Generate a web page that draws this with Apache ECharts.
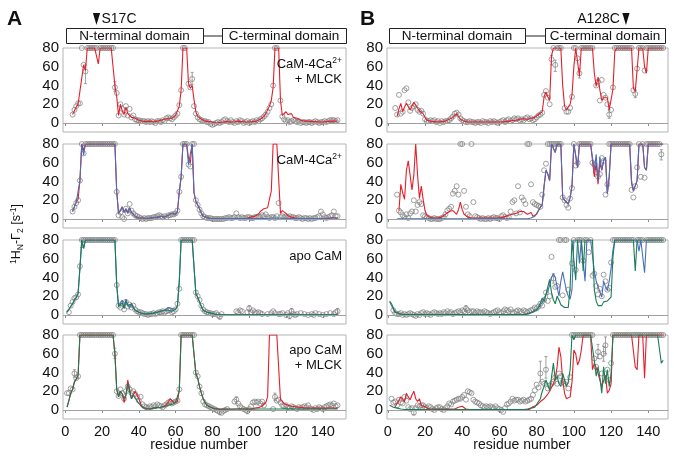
<!DOCTYPE html>
<html><head><meta charset="utf-8">
<script src="https://cdn.jsdelivr.net/npm/echarts@6/dist/echarts.min.js"></script>
<style>html,body{margin:0;padding:0;background:#fff}#c{width:674px;height:456px}</style>
</head><body><div id="c"></div>
<script>
// ---------- axis ticks ----------
const xTicks = [0,20,40,60,80,100,120,140];
const yTicks = [0,20,40,60,80];

// ---------- Panel A (S17C) : values per residue 1..148 ----------
const A1_red = [
 null,null,null,9,13,17,20,22,48,62,
 56,80,80,80,80,80,80,63,80,80,
 80,80,80,80,80,80,40,28,8,20,
 13,9,17,10,12,6,8,5,4,3,
 2,2,1.5,1.5,2,2,1.5,1,1.5,2,
 2,3,3,4,5,5,6,5,6,8,
 10,18,35,80,80,80,42,37,40,25,
 12,7,5,4,3,2,2,1.5,1,1,
 0.5,0,0,0.5,1,1,1.5,1.5,1,1,
 1,1,1.5,2,2,1.5,1.5,1,1,1,
 1,1.5,2,2,3,4,5,7,10,14,
 18,24,38,80,80,80,24,8,6,12,
 9,8,10,6,7,5,4,3,3,2,
 2,2,1.5,1.5,1.5,1.5,1,1,1,1,
 1,1.5,1.5,2,2,2,2,2];
const A1_obs = [
 null,null,null,9,14,18,21,21,80,62,
 55,80,80,80,80,80,80,null,80,80,
 80,80,80,80,80,80,38,32,8,20,
 15,9,18,8,15,6,8,4,3,3,
 2,2,2,1,2,1,2,1,0,2,
 2,1,3,2,5,6,5,4,6,8,
 10,19,35,80,80,null,42,38,47,18,
 10,6,4,3,2,2,1,1,-1,-2,
 -1,0,1,0,1,3,4,2,1,3,
 1,0,2,1,3,2,0,1,2,0,
 1,2,1,3,2,4,5,7,9,12,
 16,20,40,80,80,null,24,7,4,2,
 3,1,2,3,2,1,2,0,1,1,
 0,1,1,0,1,2,1,0,1,1,
 2,1,2,3,3,3,2,3];
const A1_err = [[11,42,62],[69,41,54],[27,34,44]];

const A2_red = [
 null,null,null,8,13,18,21,41,80,73,
 80,80,80,80,80,80,80,80,80,80,
 80,80,80,80,80,80,80,29,6,9,
 13,7,11,6,12,7,5,3,2,1,
 1,1,0.5,0.5,1,1,1,1.5,1.5,2,
 3,3,2,2,3,4,5,6,5,5,
 8,29,45,80,80,80,65,60,80,28,
 19,15,11,6,3,2,1.5,1,0.5,0.5,
 0.5,0.3,0.3,0.3,0.5,0.5,0.5,0.5,0.5,0.5,
 0.5,0.5,0.8,0.8,0.5,0.5,0.5,0.8,1,1.5,
 2,2.5,3,4,5,8,10,11,11,12,
 12.6,30,80,80,80,80,6,9,7,6,
 3.5,3,2,1.5,1,0.8,0.5,0.5,0.5,0.5,
 0.5,0.5,0.5,0.5,0.5,0.5,0.5,0.5,0.5,0.5,
 0.8,0.8,0.8,1,1,1,1,1];
const A2_blue = [
 null,null,null,8,13,18,20,41,80,68,
 80,80,80,80,80,80,80,80,80,80,
 80,80,80,80,80,80,80,29,6,9,
 13,7,11,6,12,7,5,3,2,1,
 1,1,0.5,0.5,1,1,1,1.5,1.5,2,
 3,3,2,2,3,4,5,6,5,5,
 8,29,45,80,80,80,58,59,80,28,
 19,15,11,6,3,2,1.5,1,0.5,0.5,
 0.5,0.3,0.3,0.3,0.5,0.5,0.5,0.5,0.5,0.5,
 0.5,0.5,0.8,0.8,0.5,0.5,0.5,0.5,0.5,0.5,
 0.5,0.5,0.5,0.5,0.5,0.5,0.5,0.5,0.5,0.8,
 0.8,1,1,1,1,1,0.8,0.8,0.8,0.5,
 0.5,0.5,0.5,0.5,0.5,0.5,0.5,0.5,0.5,0.5,
 0.5,0.5,0.5,0.5,0.5,0.5,0.5,0.5,0.5,0.8,
 0.8,0.8,0.8,1,1,1,1,1];
const A2_obs = [
 null,null,null,8,13,17,20,41,80,70,
 80,80,80,80,80,80,80,80,80,80,
 80,80,80,80,80,80,80,29,4,7,
 2,0,11,6,16,9,6,4,3,2,
 1,0,1,0,1,1,1,2,2,3,
 4,3,2,3,2,4,4,5,5,6,
 9,29,45,80,80,80,58,56,80,80,
 20,15,10,6,3,2,1,1,1,0,
 0,0,0,0,0,0,1,1,2,1,
 1,2,6,2,1,2,1,1,2,2,
 1,1,2,2,3,2,4,3,5,2,
 1,2,2,1,3,17,2,3,2,3,
 2,3,2,2,1,1,2,1,0,1,
 1,0,1,0,1,1,2,3,8,5,
 2,1,2,3,4,8,3,3];
const A2_err = [];

const A3_blue = [
 3,5,9,12,16,19,23,50,80,71,
 80,80,80,80,80,80,80,80,80,80,
 80,80,80,80,80,80,80,32,9,8,
 16,7,17,11,8,12,8,5,4,3,
 2,1.5,1,1,1,1.5,2,2,2.5,3,
 3.5,4,4,5,6,8,9,7,5,6,
 10,36,80,80,80,80,80,80,80,80,
 23,19,14,9,5,4,3,2.5,2,1.5,
 1,0.5,0.3,0.3,0.3,0.3,0.3,0.3,0.3,0.3,
 0.3,0.3,0.3,0.3,0.3,0.3,0.3,0.3,0.3,0.3,
 0.3,0.3,0.3,0.3,0.3,0.3,0.3,0.3,0.3,0.3,
 0.3,0.3,0.3,0.3,0.3,0.3,0.3,0.3,0.3,0.3,
 0.3,0.3,0.3,0.3,0.3,0.3,0.3,0.3,0.3,0.3,
 0.3,0.3,0.3,0.3,0.3,0.3,0.3,0.3,0.3,0.3,
 0.3,0.3,0.3,0.3,0.3,0.3,0.3,0.3];
const A3_green = [
 3,5,9,12,16,19,23,50,80,71,
 80,80,80,80,80,80,80,80,80,80,
 80,80,80,80,80,80,80,32,9,7,
 13,7,15,10,8,12,8,5,4,3,
 2,1.5,1,1,1,1.5,2,2,2.5,3,
 3.5,4,4,5,5,5,5,4,5,6,
 10,36,80,80,80,80,80,80,80,80,
 23,19,14,9,5,4,3,2.5,2,1.5,
 1,0.5,0.3,0.3,0.3,0.3,0.3,0.3,0.3,0.3,
 0.3,0.3,0.3,0.3,0.3,0.3,0.3,0.3,0.3,0.3,
 0.3,0.3,0.3,0.3,0.3,0.3,0.3,0.3,0.3,0.3,
 0.3,0.3,0.3,0.3,0.3,0.3,0.3,0.3,0.3,0.3,
 0.3,0.3,0.3,0.3,0.3,0.3,0.3,0.3,0.3,0.3,
 0.3,0.3,0.3,0.3,0.3,0.3,0.3,0.3,0.3,0.3,
 0.3,0.3,0.3,0.3,0.3,0.3,0.3,0.3];
const A3_obs = [
 null,3,10,14,18,19,22,52,80,80,
 80,80,80,80,80,80,80,80,80,80,
 80,80,80,80,80,80,80,32,10,8,
 12,6,14,9,11,8,10,6,4,3,
 3,2,1,1,0,1,1,2,1,2,
 3,3,4,3,4,5,5,3,4,6,
 12,28,80,80,80,80,80,80,80,80,
 24,20,16,10,6,4,3,2,2,1,
 1,2,0,-2,1,null,null,null,null,null,
 null,null,4,3,5,4,null,null,3,7,
 3,5,3,2,3,2,1,null,null,1,
 null,2,4,2,null,1,1,2,null,0,
 2,-1,4,1,0,1,null,2,null,1,
 null,0,null,1,0,2,null,1,null,0,
 null,1,null,2,null,1,3,4];
const A3_err = [[84,-4,1],[100,4,10],[122,-4,2],[123,1,7],[148,0,7],[9,72,80]];

const A4_red = [
 3,10,18,22,30,33,37,80,80,80,
 80,80,80,80,80,80,80,80,80,80,
 80,80,80,80,80,80,60,22,14,20,
 17,8,16,32,22,12,16,20,16,12,
 7,3,2,1.5,1,1,1.5,2,2,2.5,
 3,3,3.5,4,4,8,12,10,8,8,
 9,21,80,80,80,80,80,80,80,80,
 39,34,25,18,12,8,5,4,3,2,
 1.5,1,1,1,1,1,1,1,1,1,
 1,1,1,1,1,1,1,1,1,1,
 1,1.5,2,2,2.5,3,4,5,8,14,
 80,80,80,80,80,80,11,9,7,6,
 5,5,4,4,3.5,3,3,3,2.5,2.5,
 2,2,2,2,2,2,2,2,2,2,
 2,2,2,2,2,2,2,2];
const A4_green = [
 3,10,18,22,30,33,37,80,80,80,
 80,80,80,80,80,80,80,80,80,80,
 80,80,80,80,80,80,60,22,14,20,
 17,12,16,28,20,12,16,14,10,7,
 5,3,2,1.5,1,1,1.5,2,2,2.5,
 3,3,3.5,4,4,5,6,6,7,8,
 9,21,80,80,80,80,80,80,80,80,
 39,34,25,18,12,8,5,4,3,2,
 1.5,1,1,1,0.8,0.8,0.8,0.8,0.8,0.8,
 0.8,0.8,1,1,1,1,1,0.8,0.8,0.8,
 0.8,0.8,0.8,1,1,1,1,1,1,1,
 1,1,1,1,1,1,1,1,1.2,1.2,
 1.2,1.2,1.2,1,1,1,1,1,1,1,
 1,1,1,1,1,1,1,1,1,1,
 1,1,1,1,1,1,1,1];
const A4_obs = [
 18,18,23,22,39,34,36,80,80,80,
 80,80,80,80,80,80,80,80,80,80,
 80,80,80,80,80,80,60,20,15,22,
 18,12,20,25,22,18,20,17,14,10,
 14,6,4,3,2,4,3,5,4,6,
 5,4,3,5,6,8,9,7,8,9,
 10,22,80,80,80,80,80,80,80,80,
 40,36,25,18,9,6,5,4,3,2,
 1,0,-1,-2,-3,-1,0,1,null,null,
 null,9,11,7,4,2,1,0,-1,1,
 4,8,9,8,9,7,9,5,null,null,
 null,null,1,14,10,11,8,5,4,5,
 3,2,4,3,2,1,3,2,3,4,
 3,5,2,1,0,2,1,3,2,1,
 3,4,5,6,5,7,4,5];
const A4_err = [[5,35,43],[27,55,66],[84,-5,0],[99,-4,2],[114,10,18],[93,7,14]];

// ---------- Panel B (A128C) ----------
const B1_red = [
 null,null,null,null,7,15,21,12,17,21,
 22,14,18,22,24,16,13,12,10,6,
 3,2,2,2,1.5,1,1,1,1.5,2,
 2,3,4,5,6,8,10,7,4,3,
 2,1.5,1,1,1,1,1,1,1,1,
 1,1,1,1,1,1,1,1,1,1,
 1,1,1.5,1.5,2,2,2.5,3,3,3.5,
 4,4,4.5,5,4,4,5,5,6,8,
 9,10,12,28,33,28,24,72,80,80,
 80,80,80,40,18,14,15,20,30,60,
 80,80,50,80,80,80,80,80,80,80,
 53,39,49,35,24,27,25,27,14,14,
 36,76,80,80,80,80,80,80,80,80,
 80,37,34,57,80,80,80,60,53,80,
 80,80,80,80,80,80,80,80];
const B1_obs = [
 null,null,null,16,9,30,10,12,35,37,
 22,13,16,18,20,14,12,13,10,4,
 2,2,3,2,3,1,2,0,2,1,
 2,2,3,5,7,10,11,9,5,3,
 2,1,1,2,1,1,0,1,1,0,
 2,1,1,0,2,1,2,1,0,1,
 2,3,1,3,4,2,3,5,4,5,
 3,4,3,5,6,4,5,3,4,6,
 8,9,11,30,34,27,20,68,80,62,
 80,80,80,null,16,12,12,16,28,80,
 80,69,53,80,80,80,80,80,80,80,
 null,40,44,24,46,30,27,20,9,14,
 38,80,80,80,80,80,80,80,80,80,
 80,35,31,58,80,80,80,56,80,80,
 80,80,80,80,80,80,80,80];
const B1_err = [[90,55,67],[103,48,58],[119,5,14],[133,27,35],[88,62,72]];

const B2_red = [
 null,null,null,null,null,9,37,28,21,52,
 62,61,31,47,80,47,22,35,21,9,
 4,2,1.5,1,1,1,1,1.5,2,3,
 5,7,8,7,9,8,5,10,18,10,
 5,3,2,1,1,1,1,1,1,1,
 1,1,1,1,1,1,1,1,1,1,
 1.5,2,2.5,3.5,4,4,5,6,6,7,
 8,9,8,7,5,6,7,3,3,5,
 9,12.6,15,35,52,48,41,80,80,71,
 80,80,80,23,20,18,16,23,35,80,
 80,55,80,80,80,80,80,80,80,80,
 45,60,37,60,52,62,66,27,45,80,
 80,80,80,80,80,80,80,80,80,80,
 38,30,28,41,80,80,80,55,52,80,
 80,80,80,80,80,80,80,80];
const B2_blue = [
 null,null,null,null,0.3,0.3,0.3,0.3,0.3,0.3,
 0.3,0.3,0.3,0.3,0.3,0.3,0.3,0.3,0.3,0.3,
 0.3,0.3,0.3,0.3,0.3,0.3,0.3,0.3,0.3,0.3,
 0.3,0.3,0.3,0.3,0.3,0.3,0.3,0.3,0.3,0.3,
 0.3,0.3,0.3,0.3,0.3,0.3,0.3,0.3,0.3,0.3,
 0.3,0.3,0.3,0.3,0.3,0.3,0.3,0.3,0.3,0.3,
 0.3,0.3,0.3,0.3,0.3,0.3,0.3,0.3,0.3,0.3,
 0.3,0.3,0.3,0.3,0.3,0.5,1,2,3,5,
 9,12.6,15,35,52,48,41,80,80,71,
 80,80,80,23,20,18,16,23,35,80,
 80,55,80,80,80,80,80,80,80,80,
 52,69,41,66,52,62,66,27,45,80,
 80,80,80,80,80,80,80,80,80,80,
 41,30,28,41,80,80,80,55,52,80,
 80,80,80,80,80,80,80,80];
const B2_obs = [
 null,null,null,null,26,9,7,4,2,5,
 1,6,8,20,8,15,18,16,4,3,
 2,1,0,0,1,0,0,0,1,2,
 5,9,11,13,27,30,35,26,80,80,
 30,13,5,3,80,18,3,2,1,0,
 1,0,0,1,0,1,2,1,1,0,
 3,4,2,1,2,8,18,20,6,35,
 7,23,20,16,80,80,37,18,16,15,
 14,13,26,52,59,80,80,80,80,80,
 80,80,80,23,20,15,12,22,33,80,
 57,60,80,80,80,80,80,80,80,60,
 58,50,45,48,65,62,26,37,80,80,
 80,80,80,80,80,80,80,80,80,80,
 31,23,35,55,80,45,80,44,80,80,
 80,80,80,80,80,80,69,null];
const B2_err = [[147,63,74]];

const B3_blue = [
 14,10,6,3,2,1.5,0.5,0.5,0.5,0.5,
 0.5,0.5,0.5,0.5,0.5,0.5,0.5,0.5,0.5,0.5,
 0.5,0.5,0.5,0.5,0.5,0.5,0.5,0.5,0.5,0.5,
 0.5,0.5,0.5,0.5,0.5,0.5,0.5,0.5,0.5,0.5,
 0.5,0.5,0.5,0.5,0.5,0.5,0.5,0.5,0.5,0.5,
 0.5,0.5,0.5,0.5,0.5,0.5,0.5,0.5,0.5,0.5,
 0.5,0.5,0.5,0.5,0.5,0.5,0.5,0.5,0.5,0.5,
 0.5,0.5,0.5,0.5,0.5,2,3,4,5,6,
 8,10,12,18,22,25,32,40,44,40,
 30,20,36,46,36,26,20,17,27,80,
 80,80,55,80,80,36,80,80,80,80,
 47,36,30,25,19,36,30,26,36,50,
 69,80,80,80,80,80,80,80,80,80,
 80,80,80,80,68,80,80,45,80,80,
 80,80,80,80,80,80,80,80];
const B3_green = [
 15,12,10,3,2,1.5,1,0.5,0.5,0.5,
 0.5,0.5,0.5,0.5,0.5,0.5,0.5,0.5,0.5,0.5,
 0.5,0.5,0.5,0.5,0.5,0.5,0.5,0.5,0.5,0.5,
 0.5,0.5,0.5,0.5,0.5,0.5,0.5,0.5,0.5,0.5,
 0.5,0.5,0.5,0.5,0.5,0.5,0.5,0.5,0.5,0.5,
 0.5,0.5,0.5,0.5,0.5,0.5,0.5,0.5,0.5,0.5,
 0.5,0.5,0.5,0.5,0.5,0.5,0.5,0.5,0.5,0.5,
 0.5,0.5,0.5,0.5,0.5,2,2.5,3,4,5,
 8,10,18,14,22,30,38,24,16,12,
 20,16,11,9,8,7,8,30,80,80,
 37,80,80,80,47,80,80,80,80,80,
 27,15,10,12,10,14,13,15,17,19,
 62,80,80,80,80,80,80,80,80,80,
 80,80,47,80,80,80,80,80,80,80,
 80,80,80,80,80,80,80,80];
const B3_obs = [
 null,null,5,2,1,1,2,0,1,0,
 1,2,1,0,-1,1,0,2,3,1,
 2,1,0,2,3,2,1,2,1,3,
 2,4,2,3,1,2,3,4,3,5,
 4,7,5,3,4,4,2,4,3,3,
 2,4,3,2,1,2,3,4,5,3,
 2,4,6,5,4,6,3,2,4,5,
 4,3,5,4,3,4,5,6,8,7,
 9,12,10,16,24,15,20,62,39,30,
 31,80,80,21,80,80,27,null,55,80,
 48,80,80,80,58,80,80,67,80,42,
 44,31,22,28,20,43,36,27,29,56,
 80,80,80,80,80,80,80,80,80,80,
 80,80,null,80,80,80,80,null,80,80,
 80,80,80,80,80,80,80,80];
const B3_err = [[42,4,10],[89,34,44]];

const B4_red = [
 null,null,null,3.5,7,9,14,16,9,18,
 14,11,16,20,12,9,12,5,4,3.5,
 2,1,1,1,1,1,1,1,1,1,
 1,1,1,1,1,1,2,3,5,4,
 2,1,0.5,0.5,0.5,0.5,0.5,0.5,0.5,0.5,
 0.5,0.5,0.5,0.5,0.5,0.5,0.5,0.5,0.5,0.5,
 0.5,0.5,0.5,0.5,0.5,0.5,0.5,0.5,0.5,0.5,
 0.5,0.5,0.5,0.5,0.5,0.5,2,3.5,4,5,
 7,9,11,12,14,17,20,24,28,34,
 46,67,57,32,18,12,12,14,30,64,
 60,48,53,64,80,80,80,80,80,43,
 50,45,39,32,25,31,37,18,21,28,
 80,80,80,80,80,80,80,80,80,80,
 80,80,46,43,80,80,80,34,80,80,
 80,80,80,80,80,80,80,80];
const B4_green = [
 5,4,3,2.5,2,1.5,1,0.5,0.5,0.5,
 0.5,0.5,0.5,0.5,0.5,0.5,0.5,0.5,0.5,0.5,
 0.5,0.5,0.5,0.5,0.5,0.5,0.5,0.5,0.5,0.5,
 0.5,0.5,0.5,0.5,0.5,0.5,0.5,0.5,0.5,0.5,
 0.5,0.5,0.5,0.5,0.5,0.5,0.5,0.5,0.5,0.5,
 0.5,0.5,0.5,0.5,0.5,0.5,0.5,0.5,0.5,0.5,
 0.5,0.5,0.5,0.5,0.5,0.5,0.5,0.5,0.5,0.5,
 0.5,0.5,0.5,0.5,1,1.5,2,2.5,3,5,
 9,12,20,25,32,27,21,35,50,32,
 36,28,25,39,32,25,30,43,80,75,
 80,80,80,80,80,80,80,80,80,80,
 53,36,46,34,18,46,28,43,25,39,
 80,80,80,80,80,80,80,80,80,80,
 80,80,80,80,80,80,80,80,80,80,
 80,80,80,80,80,80,50,53];
const B4_obs = [
 null,12,8,9,5,11,8,7,14,10,
 3,1,2,-3,2,5,4,5,5,3,
 2,4,3,1,0,2,3,3,1,0,
 2,4,7,6,9,10,11,12,12,14,
 16,11,20,19,18,11,9,8,7,5,
 4,3,4,3,4,3,2,4,2,1,
 0,-2,2,6,7,9,12,10,11,11,
 9,10,11,9,10,11,12,16,21,27,
 24,39,30,28,43,23,26,28,30,35,
 28,39,36,30,28,30,23,35,80,80,
 80,80,80,80,80,80,80,80,80,80,
 55,46,62,57,39,60,69,43,32,50,
 80,80,80,80,80,80,80,80,80,80,
 80,80,80,80,80,80,80,80,80,80,
 80,80,80,80,80,80,80,80];
const B4_err = [[82,30,52],[85,34,57],[117,60,78],[116,52,68],[113,55,70],[14,-5,0]];

// ---------- styling ----------
const RED = '#e41f2b', BLUE = '#4a6fb8', GREEN = '#1b7d55';
const FF = 'Arial, "Liberation Sans", Helvetica, sans-serif';
const ROW_TOP = [48, 144, 240, 335];

const panels = [
  {col:0,row:0, lines:[[A1_red,RED]], obs:A1_obs, err:A1_err},
  {col:0,row:1, lines:[[A2_red,RED],[A2_blue,BLUE]], obs:A2_obs, err:A2_err},
  {col:0,row:2, lines:[[A3_blue,BLUE],[A3_green,GREEN]], obs:A3_obs, err:A3_err},
  {col:0,row:3, lines:[[A4_red,RED],[A4_green,GREEN]], obs:A4_obs, err:A4_err},
  {col:1,row:0, lines:[[B1_red,RED]], obs:B1_obs, err:B1_err},
  {col:1,row:1, lines:[[B2_red,RED],[B2_blue,BLUE]], obs:B2_obs, err:B2_err},
  {col:1,row:2, lines:[[B3_blue,BLUE],[B3_green,GREEN]], obs:B3_obs, err:B3_err},
  {col:1,row:3, lines:[[B4_red,RED],[B4_green,GREEN]], obs:B4_obs, err:B4_err}
];

function pairs(arr){ const out=[]; arr.forEach((v,i)=>{ if(v!==null && v!==undefined) out.push([i+1,v]); }); return out; }

const grids=[], xAxes=[], yAxes=[], series=[];
panels.forEach((p,i)=>{
  grids.push({left: p.col? 387:63, top: ROW_TOP[p.row], width: p.col? 281:283, height: 84,
    show:true, borderColor:'#b4b4b4', borderWidth:1, backgroundColor:'transparent'});
  xAxes.push({type:'value', gridIndex:i, min: p.col? -0.43 : -1.2, max: p.col? 150.6 : 152.6,
    axisLine:{show:false}, splitLine:{show:false},
    axisTick:{show:true, length:3, inside:false, customValues:xTicks, lineStyle:{color:'#8a8a8a', width:1}},
    axisLabel:{show:p.row===3, customValues:xTicks, fontSize:14.5, color:'#111', margin:5, fontFamily:FF}});
  yAxes.push({type:'value', gridIndex:i, min:-9.6, max:80,
    axisLine:{show:false}, axisTick:{show:false}, splitLine:{show:false},
    axisLabel:{customValues:yTicks, fontSize:15, color:'#111', margin:4, fontFamily:FF}});
  series.push({type:'scatter', xAxisIndex:i, yAxisIndex:i, data:pairs(p.obs), symbol:'circle', symbolSize:5,
    itemStyle:{color:'rgba(255,255,255,0)', borderColor:'#7c7c7c', borderWidth:0.9}, z:2, silent:true,
    markLine:{silent:true, symbol:'none', label:{show:false}, lineStyle:{color:'#a0a0a0', type:'solid', width:1},
      data:[{yAxis:0}], animation:false}});
  series.push({type:'custom', xAxisIndex:i, yAxisIndex:i, data:p.err, z:2, silent:true,
    renderItem:(params, api)=>{
      const x=api.value(0), lo=api.value(1), hi=api.value(2);
      const a=api.coord([x,lo]), b=api.coord([x,hi]);
      const st={stroke:'#8a8a8a', lineWidth:0.8};
      return {type:'group', children:[
        {type:'line', shape:{x1:a[0],y1:a[1],x2:b[0],y2:b[1]}, style:st},
        {type:'line', shape:{x1:a[0]-1.5,y1:a[1],x2:a[0]+1.5,y2:a[1]}, style:st},
        {type:'line', shape:{x1:b[0]-1.5,y1:b[1],x2:b[0]+1.5,y2:b[1]}, style:st}]};
    }});
  p.lines.forEach(([arr,col])=>{
    series.push({type:'line', xAxisIndex:i, yAxisIndex:i, data:pairs(arr), showSymbol:false, symbol:'none',
      lineStyle:{color:col, width:1.1}, z:3, silent:true, clip:true});
  });
});

const chart = echarts.init(document.getElementById('c'), null, {renderer:'canvas'});
chart.setOption({animation:false, backgroundColor:'#fff', grid:grids, xAxis:xAxes, yAxis:yAxes, series:series});

// ---------- annotations ----------
const G=[];
function T(x,y,text,o){ o=o||{}; G.push({type:'text', x:x, y:y, rotation:o.rot||0, silent:true, z:10,
  style:Object.assign({text:text, fill:'#111', fontSize:o.fs||13, fontFamily:FF, fontWeight:o.fw||'normal',
    align:o.align||'left', verticalAlign:'middle'}, o.rich?{rich:o.rich}:{})}); }
function R(x,y,w,h){ G.push({type:'rect', silent:true, z:9, shape:{x:x+0.5,y:y+0.5,width:w,height:h}, style:{fill:'#fff', stroke:'#222', lineWidth:1}}); }
function L(x1,y1,x2,y2){ G.push({type:'line', silent:true, z:9, shape:{x1:x1,y1:y1,x2:x2,y2:y2}, style:{stroke:'#222', lineWidth:1}}); }

T(7,19,'A',{fs:21,fw:'bold'});
T(360,19,'B',{fs:21,fw:'bold'});
// domain boxes
R(66,28,137,15); L(203,36,222,36); R(222,28,124,15);
T(134.5,36,'N-terminal domain',{align:'center', fs:13.5}); T(284,36,'C-terminal domain',{align:'center', fs:13.5});
R(389,28,136,15); L(525,36,545,36); R(545,28,120,15);
T(457,36,'N-terminal domain',{align:'center', fs:13.5}); T(605,36,'C-terminal domain',{align:'center', fs:13.5});
// mutation sites
const sA = chart.convertToPixel({xAxisIndex:0}, 17);
const sB = chart.convertToPixel({xAxisIndex:4}, 128);
G.push({type:'polygon', silent:true, z:10, shape:{points:[[sA-3.6,13],[sA+3.6,13],[sA,25]]}, style:{fill:'#111'}});
T(sA+5,19,'S17C',{fs:14});
G.push({type:'polygon', silent:true, z:10, shape:{points:[[sB-3.6,13],[sB+3.6,13],[sB,25]]}, style:{fill:'#111'}});
T(sB-6,19,'A128C',{fs:14, align:'right'});
// condition labels
const RICH = {n:{fontSize:13, fontFamily:FF, fill:'#111', lineHeight:16}, s:{fontSize:8.5, fontFamily:FF, fill:'#111', lineHeight:9, verticalAlign:'top'}};
T(342,64,'{n|CaM-4Ca}{s|2+}',{align:'right', rich:RICH});
T(342,79,'{n|+ MLCK}',{align:'right', rich:RICH});
T(342,160,'{n|CaM-4Ca}{s|2+}',{align:'right', rich:RICH});
T(342,256,'{n|apo CaM}',{align:'right', rich:RICH});
T(342,350,'{n|apo CaM}',{align:'right', rich:RICH});
T(342,365,'{n|+ MLCK}',{align:'right', rich:RICH});
// axis titles
T(199,445,'residue number',{fs:14, align:'center'});
T(522,445,'residue number',{fs:14, align:'center'});
const YR = {n:{fontSize:12.5, fontFamily:FF, fill:'#111', lineHeight:16},
  s:{fontSize:8.5, fontFamily:FF, fill:'#111', lineHeight:9, verticalAlign:'top'},
  b:{fontSize:8.5, fontFamily:FF, fill:'#111', lineHeight:9, verticalAlign:'bottom'}};
G.push({type:'text', x:17, y:234, rotation:Math.PI/2, silent:true, z:10,
  style:{text:'{s|1}{n|H}{b|N}{n|-Γ}{b|2}{n| [s}{s|-1}{n|]}', rich:YR, align:'center', verticalAlign:'middle', fontFamily:FF}});

chart.setOption({graphic:G});
</script>
</body></html>
